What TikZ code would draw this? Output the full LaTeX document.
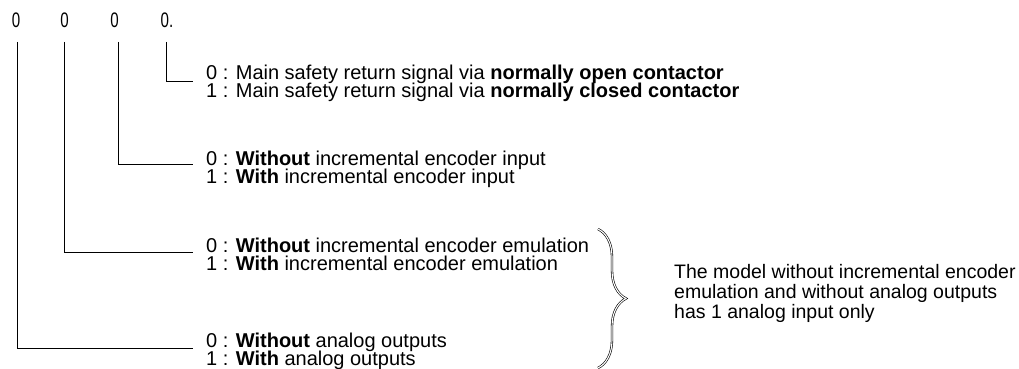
\documentclass[tikz,border=0pt]{standalone}
\usepackage{fontspec}
\setmainfont{Liberation Sans}
\newfontfamily\narrowdigits[FakeStretch=0.72]{Liberation Sans}
\usetikzlibrary{decorations.pathreplacing}
\tikzset{
  txt/.style={anchor=base west, inner sep=0pt, font=\fontsize{20pt}{24pt}\selectfont},
  note/.style={anchor=base west, inner sep=0pt, font=\fontsize{19.5pt}{24pt}\selectfont},
  digit/.style={anchor=base, inner sep=0pt, font=\narrowdigits\fontsize{21pt}{24pt}\selectfont},
  conn/.style={draw=black, line width=1pt},
  bracestyle/.style={draw=black, line width=0.6pt, double=white, double distance=1.1pt,
    decorate, decoration={brace, amplitude=28pt, aspect=0.5}}
}
\begin{document}
\begin{tikzpicture}[x=1pt, y=-1pt]
\useasboundingbox (0,0) rectangle (1019,369);
% digits
\node[digit] (d1) at (16,28) {0};
\node[digit] (d2) at (64.5,28) {0};
\node[digit] (d3) at (114.5,28) {0};
\node[digit, anchor=base west] (d4) at (160.5,28) {0.};
% text rows
\node[txt] (r4a) at (206,79) {0 : Main safety return signal via \textbf{normally open contactor}};
\node[txt] (r4b) at (206,97) {1 : Main safety return signal via \textbf{normally closed contactor}};
\node[txt] (r3a) at (206,165) {0 : \textbf{Without} incremental encoder input};
\node[txt] (r3b) at (206,183) {1 : \textbf{With} incremental encoder input};
\node[txt] (r2a) at (206,252) {0 : \textbf{Without} incremental encoder emulation};
\node[txt] (r2b) at (206,270) {1 : \textbf{With} incremental encoder emulation};
\node[txt] (r1a) at (206,347) {0 : \textbf{Without} analog outputs};
\node[txt] (r1b) at (206,365) {1 : \textbf{With} analog outputs};
% connector end points
\coordinate (s4) at (166,42); \coordinate (e4) at (193,81);
\coordinate (s3) at (118,42); \coordinate (e3) at (193,164);
\coordinate (s2) at (64,42);  \coordinate (e2) at (193,252);
\coordinate (s1) at (17,42);  \coordinate (e1) at (193,348);
\draw[conn] (s4) |- (e4);
\draw[conn] (s3) |- (e3);
\draw[conn] (s2) |- (e2);
\draw[conn] (s1) |- (e1);
% brace
\coordinate (bt) at (598,229);
\coordinate (bb) at (598,368);
\draw[bracestyle] (bt) -- (bb);
% note
\node[note] (n1) at (674,278) {The model without incremental encoder};
\node[note] (n2) at (674,298) {emulation and without analog outputs};
\node[note] (n3) at (674,318) {has 1 analog input only};
\end{tikzpicture}
\end{document}
